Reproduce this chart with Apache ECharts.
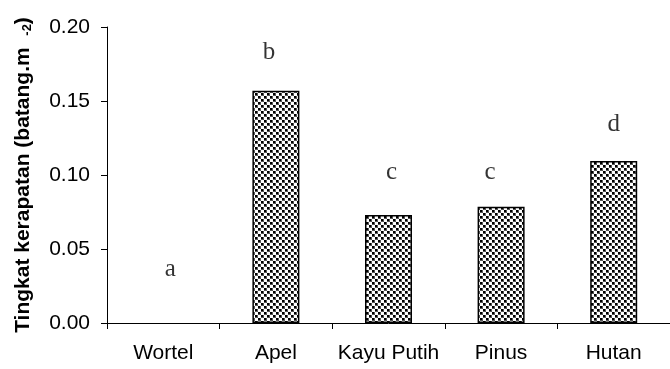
<!DOCTYPE html>
<html>
<head>
<meta charset="utf-8">
<script src="https://cdn.jsdelivr.net/npm/echarts@6/dist/echarts.min.js"></script>
<style>
html,body{margin:0;padding:0;background:#fff;}
#chart{width:670px;height:369px;}
</style>
</head>
<body>
<div id="chart"></div>
<script>
// ---- data ----
const categories = ['Wortel', 'Apel', 'Kayu Putih', 'Pinus', 'Hutan'];
const densityValues = [0, 0.157, 0.073, 0.0785, 0.1095];
const groupLetters = ['a', 'b', 'c', 'c', 'd'];
const letterHeights = [0.0365, 0.183, 0.102, 0.102, 0.1345];
const yTicks = [0, 0.05, 0.10, 0.15, 0.20];

// ---- style constants ----
const letterOffsetX = [7, -7, 3, -11, 0];
const sans = '"Liberation Sans", Arial, sans-serif';
const serif = '"Liberation Serif", "Times New Roman", serif';

function makePattern() {
  const c = document.createElement('canvas');
  c.width = 6; c.height = 6;
  const g = c.getContext('2d');
  g.fillStyle = '#fff'; g.fillRect(0, 0, 6, 6);
  g.fillStyle = '#555';
  g.fillRect(0, 0, 3, 3); g.fillRect(3, 3, 3, 3);
  g.fillStyle = '#000';
  g.fillRect(0, 0, 2, 2); g.fillRect(3, 3, 2, 2);
  return c;
}

const chart = echarts.init(document.getElementById('chart'), null, {renderer: 'canvas'});
chart.setOption({
  animation: false,
  backgroundColor: '#fff',
  grid: {left: 107, right: -8, top: 27, bottom: 46, containLabel: false},
  xAxis: {
    type: 'category',
    data: categories,
    axisLine: {lineStyle: {color: '#000', width: 1}},
    axisTick: {show: true, alignWithLabel: false, interval: 0, length: 6, lineStyle: {color: '#000'}},
    axisLabel: {color: '#000', fontFamily: sans, fontSize: 21, margin: 20, interval: 0},
    splitLine: {show: false}
  },
  yAxis: {
    type: 'value',
    min: yTicks[0],
    max: yTicks[yTicks.length - 1],
    interval: yTicks[1] - yTicks[0],
    axisLine: {show: true, lineStyle: {color: '#000', width: 1}},
    axisTick: {show: true, length: 6, lineStyle: {color: '#000'}},
    axisLabel: {color: '#000', fontFamily: sans, fontSize: 21, margin: 17,
      formatter: v => v.toFixed(2)},
    splitLine: {show: false},
    name: '{t|Tingkat kerapatan (batang.m  }{s|-2}{t|)}',
    nameLocation: 'middle',
    nameRotate: 90,
    nameGap: 73,
    nameTextStyle: {
      rich: {
        t: {fontFamily: sans, fontSize: 21, fontWeight: 'bold', color: '#000'},
        s: {fontFamily: sans, fontSize: 13, fontWeight: 'bold', color: '#000', verticalAlign: 'bottom'}
      }
    }
  },
  series: [
    {
      type: 'bar',
      data: densityValues.map(v => ({
        value: v,
        itemStyle: v === 0 ? {borderWidth: 0, opacity: 0} : undefined
      })),
      barWidth: 47,
      itemStyle: {
        color: {image: makePattern(), repeat: 'repeat'},
        borderColor: '#000',
        borderWidth: 1.5
      },
      silent: true
    },
    {
      type: 'scatter',
      data: letterHeights.map((h, i) => ({
        value: [categories[i], h],
        label: {offset: [letterOffsetX[i], 0]}
      })),
      symbolSize: 0,
      label: {
        show: true,
        position: 'inside',
        formatter: p => groupLetters[p.dataIndex],
        fontFamily: serif,
        fontSize: 25,
        color: '#000'
      },
      silent: true
    }
  ]
});
</script>
</body>
</html>
